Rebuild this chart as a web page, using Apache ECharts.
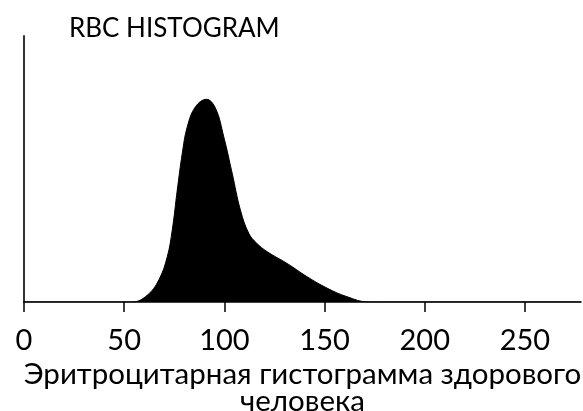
<!DOCTYPE html>
<html>
<head>
<meta charset="utf-8">
<script src="https://cdn.jsdelivr.net/npm/echarts@6/dist/echarts.min.js"></script>
<style>
html,body{margin:0;padding:0;background:#fff;}
#c{width:583px;height:411px;}
</style>
</head>
<body>
<div id="c"></div>
<script>
var cellSize = [0, 40, 54.1, 61.6, 67.3, 71.5, 74.0, 76.5, 79.0, 81.5, 85.6, 91.1, 95.6, 99.7, 103.9, 108.0, 112.2, 116.0, 121.4, 131.3, 141.3, 151.3, 161.2, 172.0, 200, 278];
var cellCount = [0, 0, 0, 2.6, 8.3, 17.0, 27.1, 42.1, 55.9, 65.9, 73.4, 76.2, 72.8, 62.1, 48.4, 34.6, 25.8, 22.2, 18.9, 14.5, 9.5, 5.2, 2.0, 0, 0, 0];
var tickValues = [0, 50, 100, 150, 200, 250];
var chartTitle = 'RBC HISTOGRAM';
var axisName = 'Эритроцитарная гистограмма здорового\nчеловека';

var points = cellSize.map(function (s, i) { return [s, cellCount[i]]; });
var FONT = 'Lato';

var chart = echarts.init(document.getElementById('c'), null, {renderer: 'canvas'});
chart.setOption({
  animation: false,
  backgroundColor: '#fff',
  title: {
    text: chartTitle,
    left: 64,
    top: 11,
    textStyle: {fontFamily: FONT, fontWeight: 'normal', fontSize: 26, color: '#000'}
  },
  grid: {left: 24, right: 2, top: 36, bottom: 109, containLabel: false, outerBoundsMode: 'none'},
  xAxis: {
    type: 'value',
    min: 0,
    max: 278,
    interval: 50,
    splitLine: {show: false},
    axisLine: {show: true, lineStyle: {color: '#000', width: 1.5}},
    axisTick: {show: true, length: 10, lineStyle: {color: '#000', width: 1.5}, customValues: tickValues},
    axisLabel: {show: true, fontFamily: FONT, fontSize: 29, color: '#000', margin: 24, customValues: tickValues},
    name: axisName,
    nameLocation: 'middle',
    nameGap: 54,
    nameTextStyle: {fontFamily: FONT, fontSize: 29.5, color: '#000', lineHeight: 27, align: 'center'}
  },
  yAxis: {
    type: 'value',
    min: 0,
    max: 100,
    splitLine: {show: false},
    axisLine: {show: true, lineStyle: {color: '#333', width: 2}},
    axisTick: {show: false},
    axisLabel: {show: false}
  },
  series: [{
    type: 'line',
    data: points,
    smooth: 0.4,
    symbol: 'none',
    lineStyle: {color: '#000', width: 1},
    areaStyle: {color: '#000', opacity: 1}
  }]
});
</script>
</body>
</html>
